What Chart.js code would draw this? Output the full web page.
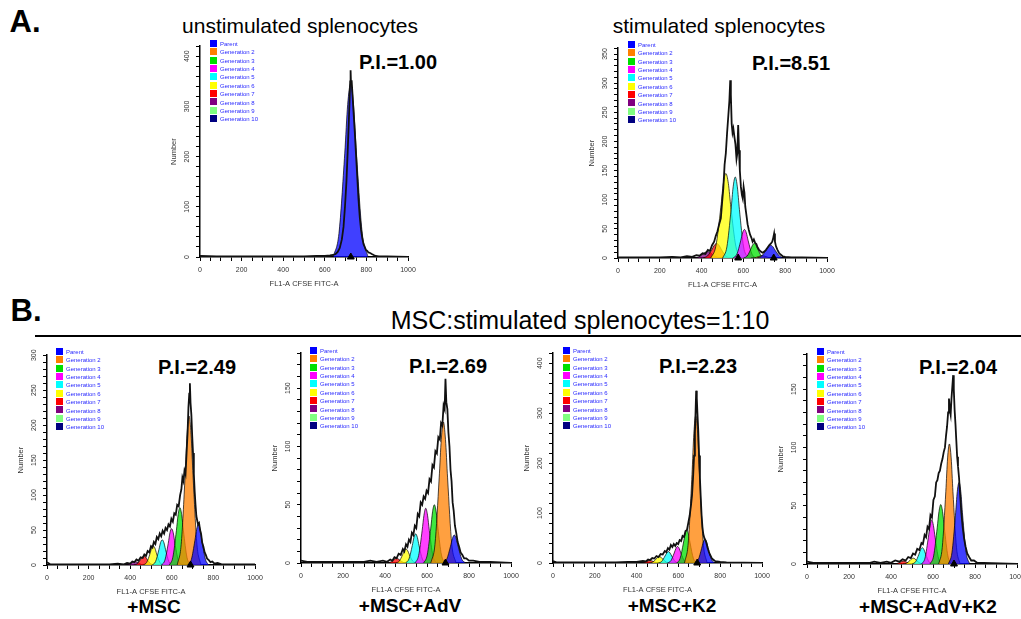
<!DOCTYPE html>
<html>
<head>
<meta charset="utf-8">
<script src="https://cdn.jsdelivr.net/npm/chart.js@4.4.0/dist/chart.umd.min.js"></script>
<style>
body{margin:0;width:1021px;height:619px;overflow:hidden;background:#fff;position:relative;font-family:"Liberation Sans",Arial,sans-serif;}
.t{position:absolute;white-space:nowrap;color:#000;line-height:1;transform:translate(-50%,-50%);}
.b{font-weight:bold;}
canvas{position:absolute;}
.lg{position:absolute;font-size:6px;color:#2a2aff;line-height:8.4px;white-space:nowrap;}
.lg div{height:8.4px;}
.lg span{display:inline-block;width:7px;height:7px;margin-right:3px;vertical-align:middle;position:relative;top:-1px;}
#rule{position:absolute;left:35px;top:335px;width:986px;height:2px;background:#000;}
</style>
</head>
<body>
<div class="t b" style="left:25px;top:21px;font-size:31px;">A.</div>
<div class="t" style="left:300px;top:25px;font-size:21px;">unstimulated splenocytes</div>
<div class="t" style="left:719px;top:25px;font-size:21px;">stimulated splenocytes</div>
<div class="t b" style="left:398px;top:62px;font-size:20px;">P.I.=1.00</div>
<div class="t b" style="left:791px;top:63px;font-size:20px;">P.I.=8.51</div>
<div class="t b" style="left:26px;top:310px;font-size:31px;">B.</div>
<div class="t" style="left:580px;top:320px;font-size:25px;">MSC:stimulated splenocytes=1:10</div>
<div id="rule"></div>
<div class="t b" style="left:197px;top:367px;font-size:20px;">P.I.=2.49</div>
<div class="t b" style="left:448px;top:366px;font-size:20px;">P.I.=2.69</div>
<div class="t b" style="left:698px;top:366px;font-size:20px;">P.I.=2.23</div>
<div class="t b" style="left:958px;top:367px;font-size:20px;">P.I.=2.04</div>
<div class="t b" style="left:154px;top:606px;font-size:19px;">+MSC</div>
<div class="t b" style="left:410px;top:605px;font-size:19px;">+MSC+AdV</div>
<div class="t b" style="left:672px;top:605px;font-size:19px;">+MSC+K2</div>
<div class="t b" style="left:928px;top:606px;font-size:19px;">+MSC+AdV+K2</div>

<script>
// legend names and colours
const genNames = ['Parent','Generation 2','Generation 3','Generation 4','Generation 5','Generation 6','Generation 7','Generation 8','Generation 9','Generation 10'];
const genColors = ['#0000ff','#ff8000','#00e000','#ff00ff','#00ffff','#ffff00','#ff0000','#800080','#80ff80','#000080'];

// A1 unstimulated
const a1Parent = [[640,0],[668,47],[696,207],[710,304],[724,345],[738,304],[752,207],[780,47],[808,0]];
const a1Data = [[0,2],[80,1],[200,1],[350,1],[500,1],[560,2],[600,2],[625,3],[640,4],[652,6],[662,10],[672,18],[682,35],[690,60],[697,100],[704,150],[710,210],[715,265],[719,310],[722,350],[724,372],[726,345],[729,352],[733,325],[738,290],[744,250],[750,205],[756,160],[762,115],[768,80],[774,55],[780,38],[786,26],[792,20],[798,14],[804,12],[810,9],[818,8],[826,6],[835,4],[845,2],[860,1],[900,1],[1000,0]];

// A2 stimulated
const a2Parent = [[664,0],[686,3],[708,13.2],[719,19.4],[730,22],[741,19.4],[752,13.2],[774,3],[796,0]];
const a2Gen2 = [[636,0],[654,0.5],[672,2.4],[681,3.5],[690,4],[699,3.5],[708,2.4],[726,0.5],[744,0]];
const a2Gen3 = [[601,0],[618,3.4],[635,15],[643.5,22],[652,25],[660.5,22],[669,15],[686,3.4],[703,0]];
const a2Gen4 = [[551,0],[569,6.6],[587,29.4],[596,43],[605,49],[614,43],[623,29.4],[641,6.6],[659,0]];
const a2Gen5 = [[501,0],[521,19],[541,83],[551,122],[561,139],[571,122],[581,83],[601,19],[621,0]];
const a2Gen6 = [[444,0],[468,20],[492,87],[504,128],[516,145],[528,128],[540,87],[564,20],[588,0]];
const a2Gen7 = [[406,0],[428,3.4],[450,15],[461,22],[472,25],[483,22],[494,15],[516,3.4],[538,0]];
const a2Gen8 = [[362,0],[384,1.5],[406,6.6],[417,9.7],[428,11],[439,9.7],[450,6.6],[472,1.5],[494,0]];
const a2Data = [[0,1],[100,1],[200,1],[260,2],[300,1],[330,3],[355,2],[375,5],[390,4],[405,8],[418,7],[430,14],[440,12],[450,22],[460,28],[468,38],[476,46],[484,58],[492,68],[498,95],[504,120],[510,160],[516,180],[522,215],[528,245],[533,270],[537,305],[540,280],[544,230],[548,215],[552,222],[557,208],[562,195],[567,170],[571,180],[575,228],[579,185],[583,150],[588,122],[593,108],[597,102],[601,122],[605,112],[609,88],[614,75],[620,58],[626,48],[632,40],[638,35],[644,28],[650,32],[656,26],[662,24],[668,18],[675,14],[683,11],[692,9],[700,11],[708,14],[716,18],[724,22],[732,25],[738,28],[743,35],[747,42],[751,28],[756,20],[763,14],[770,9],[778,6],[788,3],[800,2],[830,1],[880,1],[1000,0]];

// B1 +MSC
const b1Parent = [[677,0],[694,7.8],[711,35],[719.5,51],[728,58],[736.5,51],[745,35],[762,7.8],[779,0]];
const b1Gen2 = [[626,0],[645,29],[664,128],[673.5,187],[683,213],[692.5,187],[702,128],[721,29],[740,0]];
const b1Gen3 = [[588,0],[605,11],[622,49],[630.5,72],[639,82],[647.5,72],[656,49],[673,11],[690,0]];
const b1Gen4 = [[551,0],[567,7],[583,31],[591,46],[599,52],[607,46],[615,31],[631,7],[647,0]];
const b1Gen5 = [[506,0],[522,4.9],[538,22],[546,32],[554,36],[562,32],[570,22],[586,4.9],[602,0]];
const b1Gen6 = [[463,0],[479,3.6],[495,16],[503,24],[511,27],[519,24],[527,16],[543,3.6],[559,0]];
const b1Gen7 = [[418,0],[434,1.8],[450,7.8],[458,11.4],[466,13],[474,11.4],[482,7.8],[498,1.8],[514,0]];
const b1Gen8 = [[375,0],[391,0.7],[407,3],[415,4.4],[423,5],[431,4.4],[439,3],[455,0.7],[471,0]];
const b1Data = [[0,4],[15,1],[100,1],[200,1],[300,1],[340,2],[370,1],[385,3],[400,2],[410,5],[420,4],[430,8],[440,6],[450,11],[460,10],[468,15],[476,13],[484,20],[492,18],[500,27],[507,25],[514,33],[521,30],[528,40],[535,37],[542,45],[549,41],[556,49],[563,45],[570,53],[577,50],[584,58],[591,55],[598,66],[605,62],[612,74],[619,72],[626,86],[633,84],[640,100],[646,108],[651,125],[656,120],[661,135],[666,130],[671,160],[676,190],[680,225],[684,245],[687,260],[690,232],[694,215],[698,185],[702,160],[706,130],[710,105],[714,86],[718,70],[722,64],[726,58],[731,60],[736,50],[741,44],[746,32],[752,26],[758,18],[764,14],[770,9],[778,7],[786,4],[795,5],[805,2],[820,3],[840,1],[880,1],[950,1],[1000,1]];

// B2 +MSC+AdV
const b2Parent = [[676,0],[694,3.2],[712,14.4],[721,21],[730,24],[739,21],[748,14.4],[766,3.2],[784,0]];
const b2Gen2 = [[618,0],[638,16],[658,73],[668,106],[678,121],[688,106],[698,73],[718,16],[738,0]];
const b2Gen3 = [[584,0],[601,6.8],[618,30],[626.5,44],[635,50],[643.5,44],[652,30],[669,6.8],[686,0]];
const b2Gen4 = [[543,0],[560,6.3],[577,28],[585.5,41],[594,47],[602.5,41],[611,28],[628,6.3],[645,0]];
const b2Gen5 = [[498,0],[514,3.4],[530,15],[538,22],[546,25],[554,22],[562,15],[578,3.4],[594,0]];
const b2Gen6 = [[452,0],[468,1.6],[484,7.2],[492,10.6],[500,12],[508,10.6],[516,7.2],[532,1.6],[548,0]];
const b2Gen7 = [[407,0],[423,0.5],[439,2.4],[447,3.5],[455,4],[463,3.5],[471,2.4],[487,0.5],[503,0]];
const b2Data = [[0,2],[30,1],[100,1],[200,1],[300,1],[330,2],[360,1],[390,2],[410,1],[425,3],[435,2],[445,5],[455,4],[465,8],[475,7],[485,12],[492,10],[500,16],[507,14],[514,20],[521,18],[528,26],[535,24],[542,32],[549,30],[556,42],[563,40],[570,52],[577,50],[584,57],[591,55],[598,62],[605,60],[612,72],[619,70],[626,84],[633,82],[640,96],[647,94],[654,108],[661,106],[667,120],[673,118],[679,135],[684,132],[688,158],[692,138],[697,132],[702,112],[707,100],[712,80],[717,70],[722,52],[727,45],[733,32],[739,26],[746,18],[753,14],[760,9],[768,7],[777,4],[787,4],[800,2],[820,2],[850,1],[900,1],[1000,0]];

// B3 +MSC+K2
const b3Parent = [[679,0],[695,6.5],[711,29],[719,42],[727,48],[735,42],[743,29],[759,6.5],[775,0]];
const b3Gen2 = [[629,0],[647,40],[665,177],[674,260],[683,295],[692,260],[701,177],[719,40],[737,0]];
const b3Gen3 = [[592,0],[608,8.9],[624,40],[632,58],[640,66],[648,58],[656,40],[672,8.9],[688,0]];
const b3Gen4 = [[548,0],[564,4.5],[580,20],[588,29],[596,33],[604,29],[612,20],[628,4.5],[644,0]];
const b3Gen5 = [[504,0],[520,3.1],[536,14],[544,20],[552,23],[560,20],[568,14],[584,3.1],[600,0]];
const b3Gen6 = [[461,0],[477,1.8],[493,7.8],[501,11.4],[509,13],[517,11.4],[525,7.8],[541,1.8],[557,0]];
const b3Gen7 = [[416,0],[432,0.7],[448,3],[456,4.4],[464,5],[472,4.4],[480,3],[496,0.7],[512,0]];
const b3Data = [[0,4],[20,1],[100,1],[200,1],[300,1],[360,2],[400,2],[430,4],[445,3],[455,7],[465,6],[475,10],[485,9],[495,14],[505,12],[515,18],[525,17],[535,24],[542,22],[550,30],[557,27],[564,36],[571,32],[578,38],[585,34],[592,40],[599,38],[606,46],[613,44],[620,54],[627,52],[634,64],[641,66],[648,82],[654,95],[660,115],[665,135],[670,170],[675,215],[679,260],[682,300],[685,345],[688,330],[691,300],[695,265],[699,215],[703,170],[707,130],[711,95],[715,72],[719,58],[724,50],[729,46],[734,40],[740,30],[746,22],[752,16],[759,10],[766,7],[775,4],[785,3],[800,2],[830,1],[1000,0]];

// B4 +MSC+AdV+K2
const b4Parent = [[673,0],[690,9.5],[707,42],[715.5,62],[724,70],[732.5,62],[741,42],[758,9.5],[775,0]];
const b4Gen2 = [[627,0],[644,14],[661,62],[669.5,91],[678,103],[686.5,91],[695,62],[712,14],[729,0]];
const b4Gen3 = [[586,0],[603,6.9],[620,31],[628.5,45],[637,51],[645.5,45],[654,31],[671,6.9],[688,0]];
const b4Gen4 = [[546,0],[562,5.1],[578,23],[586,33],[594,38],[602,33],[610,23],[626,5.1],[642,0]];
const b4Gen5 = [[501,0],[517,1.9],[533,8.4],[541,12.3],[549,14],[557,12.3],[565,8.4],[581,1.9],[597,0]];
const b4Gen6 = [[458,0],[474,0.7],[490,3],[498,4.4],[506,5],[514,4.4],[522,3],[538,0.7],[554,0]];
const b4Gen7 = [[411,0],[427,0.3],[443,1.5],[451,2.2],[459,2.5],[467,2.2],[475,1.5],[491,0.3],[507,0]];
const b4Data = [[0,2],[30,1],[100,1],[200,1],[300,1],[320,2],[350,1],[380,2],[400,1],[420,3],[440,2],[455,4],[470,3],[482,6],[494,5],[505,9],[515,8],[525,13],[535,12],[545,18],[552,17],[560,25],[567,23],[574,32],[581,30],[588,42],[595,40],[602,55],[609,58],[615,70],[621,72],[627,78],[633,80],[639,86],[645,90],[651,96],[657,100],[662,110],[667,118],[672,130],[676,142],[680,132],[684,128],[688,142],[692,152],[696,162],[699,150],[703,132],[707,120],[711,106],[715,92],[719,84],[724,74],[729,60],[735,44],[741,32],[748,22],[755,15],[763,9],[772,6],[782,3],[795,3],[810,1],[840,1],[1000,0]];

// marker triangles (x positions on axis)
const a1Marks = [725];
const a2Marks = [575, 745];
const b1Marks = [690];
const b2Marks = [688];
const b3Marks = [690];
const b4Marks = [700];

function rgba(hex, a) {
  const n = parseInt(hex.slice(1), 16);
  return 'rgba(' + (n >> 16) + ',' + ((n >> 8) & 255) + ',' + (n & 255) + ',' + a + ')';
}

function drawPanel(p) {
  const W = 31, H = 31, pl = 2, pt = 6, pr = 14, pb = 2;
  const cv = document.createElement('canvas');
  cv.width = p.x1 - p.x0 + W + pl + pr;
  cv.height = p.y0 - p.yTop + H + pt + pb;
  cv.style.left = (p.x0 - W - pl) + 'px';
  cv.style.top = (p.yTop - pt) + 'px';
  document.body.appendChild(cv);

  // legend
  const lg = document.createElement('div');
  lg.className = 'lg';
  lg.style.left = p.lgX + 'px';
  lg.style.top = (p.lgY - 4.2) + 'px';
  lg.innerHTML = genNames.map((n, i) => '<div><span style="background:' + genColors[i] + '"></span>' + n + '</div>').join('');
  document.body.appendChild(lg);

  const datasets = [];
  datasets.push({
    data: p.data, borderColor: '#111', borderWidth: 1.8, pointRadius: 0, fill: false, tension: 0, order: 0
  });
  datasets.push({
    data: p.marks.map(x => [x, 0]), showLine: false, pointStyle: 'triangle', pointRadius: 4,
    pointBackgroundColor: '#000', pointBorderColor: '#000', clip: false, order: 0
  });
  p.peaks.forEach((pk, i) => {
    if (!pk) return;
    datasets.push({
      data: pk, borderColor: '#000', borderWidth: 0.7, pointRadius: 0,
      backgroundColor: rgba(genColors[i], 0.75), fill: 'origin',
      cubicInterpolationMode: 'monotone', order: i + 1
    });
  });

  new Chart(cv, {
    type: 'line',
    data: { datasets: datasets },
    options: {
      responsive: false, animation: false, events: [],
      layout: { padding: { left: pl, top: pt, right: pr, bottom: pb } },
      plugins: { legend: { display: false }, tooltip: { enabled: false } },
      scales: {
        x: {
          type: 'linear', min: 0, max: 1000,
          afterFit: s => { s.height = H; },
          border: { color: '#000', width: 1.5 },
          grid: { drawOnChartArea: false, color: '#000', tickLength: 4 },
          ticks: { stepSize: 50, autoSkip: false, maxRotation: 0, padding: 5, color: '#333',
                   font: { size: 7, family: 'Liberation Sans' },
                   callback: v => v % 200 === 0 ? v : '' },
          title: { display: true, text: 'FL1-A CFSE FITC-A', color: '#333', padding: 0,
                   font: { size: 7.5, family: 'Liberation Sans' } }
        },
        y: {
          type: 'linear', min: 0, max: p.max,
          afterFit: s => { s.width = W; },
          border: { color: '#000', width: 1.5 },
          grid: { drawOnChartArea: false, color: '#000', tickLength: 4 },
          ticks: { stepSize: p.step, autoSkip: false, minRotation: 90, maxRotation: 90,
                   crossAlign: 'center', padding: 3, color: '#333',
                   font: { size: 7, family: 'Liberation Sans' },
                   callback: v => v % p.lab === 0 ? v : '' },
          title: { display: true, text: 'Number', color: '#333', padding: 0,
                   font: { size: 7.5, family: 'Liberation Sans' } }
        }
      }
    }
  });
}

drawPanel({ x0: 200, x1: 408, yTop: 45, y0: 257, max: 420, step: 20, lab: 100, lgX: 210, lgY: 44,
  peaks: [a1Parent], data: a1Data, marks: a1Marks });
drawPanel({ x0: 618, x1: 827, yTop: 47, y0: 258, max: 360, step: 10, lab: 50, lgX: 628, lgY: 45,
  peaks: [a2Parent, a2Gen2, a2Gen3, a2Gen4, a2Gen5, a2Gen6, a2Gen7, a2Gen8], data: a2Data, marks: a2Marks });
drawPanel({ x0: 47, x1: 255, yTop: 354, y0: 565, max: 300, step: 10, lab: 50, lgX: 56, lgY: 352,
  peaks: [b1Parent, b1Gen2, b1Gen3, b1Gen4, b1Gen5, b1Gen6, b1Gen7, b1Gen8], data: b1Data, marks: b1Marks });
drawPanel({ x0: 301, x1: 511, yTop: 352, y0: 563, max: 180, step: 10, lab: 50, lgX: 310, lgY: 351,
  peaks: [b2Parent, b2Gen2, b2Gen3, b2Gen4, b2Gen5, b2Gen6, b2Gen7], data: b2Data, marks: b2Marks });
drawPanel({ x0: 553, x1: 762, yTop: 352, y0: 563, max: 420, step: 20, lab: 100, lgX: 563, lgY: 351,
  peaks: [b3Parent, b3Gen2, b3Gen3, b3Gen4, b3Gen5, b3Gen6, b3Gen7], data: b3Data, marks: b3Marks });
drawPanel({ x0: 807, x1: 1017, yTop: 353, y0: 564, max: 180, step: 10, lab: 50, lgX: 817, lgY: 352,
  peaks: [b4Parent, b4Gen2, b4Gen3, b4Gen4, b4Gen5, b4Gen6, b4Gen7], data: b4Data, marks: b4Marks });
</script>
</body>
</html>
